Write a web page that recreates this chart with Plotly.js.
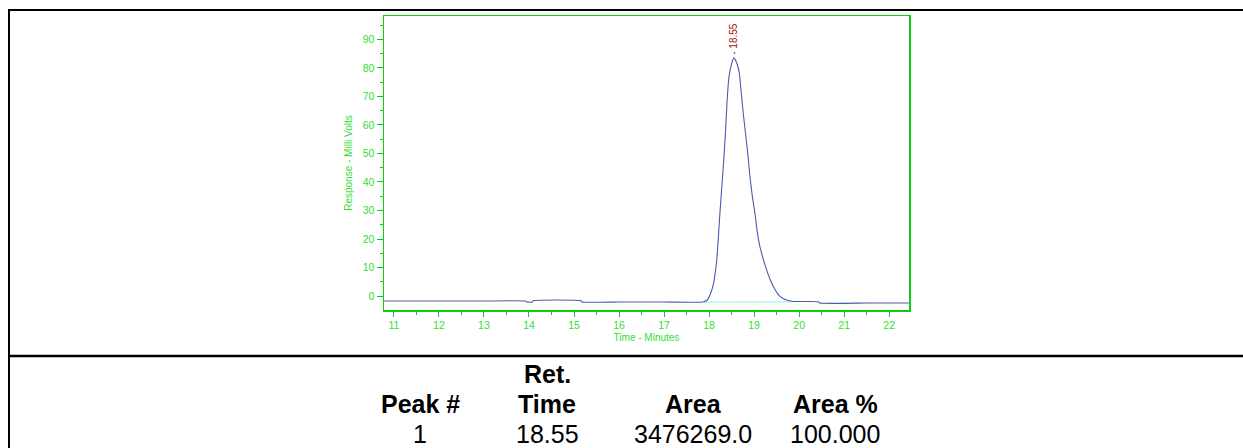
<!DOCTYPE html>
<html>
<head>
<meta charset="utf-8">
<script src="https://cdn.plot.ly/plotly-3.0.1.min.js"></script>
<style>
  html, body { margin: 0; padding: 0; background: #ffffff; }
  #chart { width: 1243px; height: 448px; }
</style>
</head>
<body>
<div id="chart"></div>
<script>
// Chromatogram trace: retention time (minutes) vs detector response (mV)
const timeMin = [10.78, 12.00, 13.00, 13.93, 13.95, 14.08, 14.10, 15.15, 15.17, 16.00, 17.00, 17.87,
  17.96, 18.02, 18.09, 18.17, 18.24, 18.30, 18.33, 18.37, 18.40, 18.44, 18.50, 18.55, 18.61, 18.67,
  18.71, 18.76, 18.81, 18.86, 18.91, 18.96, 19.02, 19.07, 19.13, 19.21, 19.28, 19.36, 19.47, 19.58,
  19.72, 19.87, 20.43, 20.45, 21.50, 22.44];
const responseMv = [-1.75, -1.75, -1.75, -1.75, -2.1, -2.1, -1.6, -1.6, -2.1, -2.1, -2.1, -2.1,
  -1.4, 0.35, 3.8, 12.6, 28.9, 42.0, 48.7, 59.2, 68.5, 76.7, 81.4, 83.5, 81.9, 78.4,
  72.0, 63.9, 56.9, 49.9, 41.5, 35.0, 28.9, 22.5, 17.2, 12.6, 9.1, 5.6, 2.1, -0.2,
  -1.4, -1.9, -2.0, -2.45, -2.45, -2.45];

// Integration baseline under the peak
const baselineTime = [17.90, 19.87];
const baselineMv = [-2.15, -2.05];

// Peak report table
const headerTop = ["", "Ret.", "", ""];
const headerBottom = ["Peak #", "Time", "Area", "Area %"];
const peakNumbers = [1];
const retTimes = [18.55];
const peakAreas = [3476269.0];
const areaPercents = [100.000];

// Plot-area geometry in pixels, used to place page furniture in paper coordinates
const W = 1243, H = 448;
const M = { l: 384, r: 334, t: 16, b: 138 };
const plotW = W - M.l - M.r, plotH = H - M.t - M.b;
const px = v => (v - M.l) / plotW;
const py = v => (H - M.b - v) / plotH;

const green = '#11cc11';
const tickGreen = '#33dd33';

const traces = [
  {
    x: baselineTime, y: baselineMv, type: 'scatter', mode: 'lines',
    line: { color: '#aaeeee', width: 1.2 }, hoverinfo: 'skip'
  },
  {
    x: timeMin, y: responseMv, type: 'scatter', mode: 'lines',
    line: { color: '#4a5aae', width: 1.1, shape: 'spline', smoothing: 0.4 }
  }
];

const shapes = [
  // report frame and divider
  { type: 'line', xref: 'paper', yref: 'paper', x0: px(8), x1: px(1250), y0: py(10), y1: py(10), line: { color: '#000', width: 2 } },
  { type: 'line', xref: 'paper', yref: 'paper', x0: px(9), x1: px(9), y0: py(10), y1: py(455), line: { color: '#000', width: 2 } },
  { type: 'line', xref: 'paper', yref: 'paper', x0: px(9), x1: px(1250), y0: py(356), y1: py(356), line: { color: '#000', width: 2.5 } }
];

const colX = [420, 547, 693, 835];
const annotations = [];

// peak label
const peakIdx = responseMv.indexOf(Math.max(...responseMv));
annotations.push({
  x: retTimes[0], y: responseMv[peakIdx], xref: 'x', yref: 'y',
  text: '- ' + retTimes[0].toFixed(2), textangle: -90, showarrow: false,
  xanchor: 'center', yanchor: 'bottom', yshift: 1,
  font: { family: 'Arial, "Liberation Sans", sans-serif', size: 10, color: '#aa1111' }
});

// table headers and values
const tableFont = { family: 'Arial, "Liberation Sans", sans-serif', size: 25, color: '#000' };
headerTop.forEach((t, i) => {
  if (!t) return;
  annotations.push({ xref: 'paper', yref: 'paper', x: px(colX[i]), y: py(374), text: '<b>' + t + '</b>',
    showarrow: false, xanchor: 'center', yanchor: 'middle', font: tableFont });
});
headerBottom.forEach((t, i) => {
  annotations.push({ xref: 'paper', yref: 'paper', x: px(colX[i]), y: py(404), text: '<b>' + t + '</b>',
    showarrow: false, xanchor: 'center', yanchor: 'middle', font: tableFont });
});
peakNumbers.forEach((n, r) => {
  const row = [String(n), retTimes[r].toFixed(2), peakAreas[r].toFixed(1), areaPercents[r].toFixed(3)];
  row.forEach((t, i) => {
    annotations.push({ xref: 'paper', yref: 'paper', x: px(colX[i]), y: py(434 + 32 * r), text: t,
      showarrow: false, xanchor: 'center', yanchor: 'middle', borderpad: 0, font: tableFont });
  });
});

const axisFont = { family: 'Arial, "Liberation Sans", sans-serif', size: 10.5, color: tickGreen };

const layout = {
  width: W, height: H,
  margin: M,
  paper_bgcolor: '#ffffff', plot_bgcolor: '#ffffff',
  showlegend: false,
  xaxis: {
    range: [10.78, 22.44], dtick: 1, tick0: 0,
    showgrid: false, zeroline: false,
    showline: true, linecolor: green, linewidth: 1.5, mirror: true,
    ticks: 'outside', ticklen: 5, tickwidth: 1, tickcolor: green,
    minor: { dtick: 0.5, ticks: 'outside', ticklen: 3, tickcolor: green, showgrid: false },
    tickfont: axisFont,
    title: { text: 'Time - Minutes', font: { family: axisFont.family, size: 10, color: tickGreen }, standoff: 4 }
  },
  yaxis: {
    range: [-4.9, 98.2], dtick: 10, tick0: 0,
    showgrid: false, zeroline: false,
    showline: true, linecolor: green, linewidth: 1.5, mirror: true,
    ticks: 'outside', ticklen: 6, tickwidth: 1, tickcolor: green,
    minor: { dtick: 5, ticks: 'outside', ticklen: 3, tickcolor: green, showgrid: false },
    tickfont: axisFont,
    title: { text: 'Response - Milli Volts', font: { family: axisFont.family, size: 10, color: tickGreen }, standoff: 8 }
  },
  shapes: shapes,
  annotations: annotations
};

Plotly.newPlot('chart', traces, layout, { staticPlot: true, displayModeBar: false });
</script>
</body>
</html>
